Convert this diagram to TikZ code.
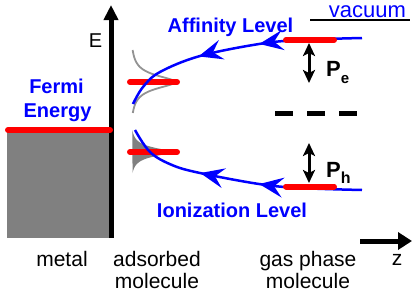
\documentclass[tikz,border=0pt]{standalone}
\usepackage{fontspec}
\setmainfont{Liberation Sans}
\usetikzlibrary{arrows.meta,decorations.markings}
\tikzset{
  lvl/.style={red, line width=6pt, line cap=round},
  bluecurve/.style={blue, line width=2.5pt},
  midarrow/.tip={Stealth[length=24pt,width=20pt,inset=9pt]},
  lbl/.style={blue, font=\fontsize{20}{24}\selectfont\bfseries, inner sep=0pt, anchor=base},
  txt/.style={font=\fontsize{21}{25}\selectfont, inner sep=0pt, anchor=base},
  thickarrow/.style={line width=5pt},
  dbl/.style={line width=3pt, {Stealth[length=13pt,width=12pt,inset=3pt]}-{Stealth[length=13pt,width=12pt,inset=3pt]}}
}
\begin{document}
\begin{tikzpicture}[x=1pt,y=-1pt]
\useasboundingbox (0,0) rectangle (416,300);
% metal
\fill[gray] (7,130) rectangle (110,238);
\draw[thickarrow, -{Triangle[length=15pt,width=14pt]}] (111,238) -- (111,5);
\draw[lvl] (8,130) -- (110,130);
% adsorbed broadened levels
\draw[gray!85, line width=1.8pt] plot[domain=-32:31, samples=100, smooth] ({130+45*64/((\x)*(\x)+64)}, {82+\x});
\fill[gray] plot[domain=-22:21, samples=100, smooth] ({130+40*30/((\x)*(\x)+30)}, {152+\x}) -- cycle;
\draw[lvl] (130,82) -- (177,82);
\draw[lvl] (130,152) -- (177,152);
% blue curves
\draw[bluecurve, postaction={decorate}, decoration={markings,
   mark=at position 103pt with {\arrow{midarrow}},
   mark=at position 165pt with {\arrow{midarrow}}}]
  plot[smooth, tension=0.6] coordinates {(362,38) (300,40) (259,44) (200,56) (160,72) (143,87) (133,104)};
\draw[bluecurve, postaction={decorate}, decoration={markings,
   mark=at position 103pt with {\arrow{midarrow}},
   mark=at position 163pt with {\arrow{midarrow}}}]
  plot[smooth, tension=0.6] coordinates {(362,190) (300,188) (259,184) (200,173) (172,165) (150,152) (135,130)};
% gas phase levels
\draw[lvl] (286,40) -- (334,40);
\draw[lvl] (286,186.5) -- (334,186.5);
\draw[dbl] (309,43) -- (309,83);
\draw[dbl] (309,143) -- (309,183);
\draw[line width=5pt, dash pattern=on 18pt off 14pt] (275,113) -- (357,113);
% vacuum
\draw[line width=1.2pt] (310,20) -- (410,20);
% z arrow
\draw[thickarrow, -{Triangle[length=14pt,width=17pt]}] (360,241) -- (412,241);
% texts
\node[lbl] (aff) at (230.5,32) {Affinity Level};
\node[lbl] (ion) at (232,217) {Ionization Level};
\node[lbl] (fermi1) at (56.5,93) {Fermi};
\node[lbl] (fermi2) at (57.5,117) {Energy};
\node[txt, blue, font=\fontsize{22}{26}\selectfont] (vac) at (367.5,17) {vacuum};
\node[txt, font=\fontsize{20}{24}\selectfont] (E) at (95.5,47) {E};
\node[txt] (metal) at (62,266) {metal};
\node[txt] (ads1) at (157,266) {adsorbed};
\node[txt] (ads2) at (157,288) {molecule};
\node[txt] (gas1) at (308,266) {gas phase};
\node[txt] (gas2) at (308,288) {molecule};
\node[txt] (z) at (397,265) {z};
\node[inner sep=0pt, anchor=base west, font=\fontsize{22}{26}\selectfont\bfseries] (pe) at (326,76) {P\raisebox{-7pt}{\fontsize{15}{15}\selectfont e}};
\node[inner sep=0pt, anchor=base west, font=\fontsize{22}{26}\selectfont\bfseries] (ph) at (326,177) {P\raisebox{-6pt}{\fontsize{16}{16}\selectfont h}};
\end{tikzpicture}
\end{document}
